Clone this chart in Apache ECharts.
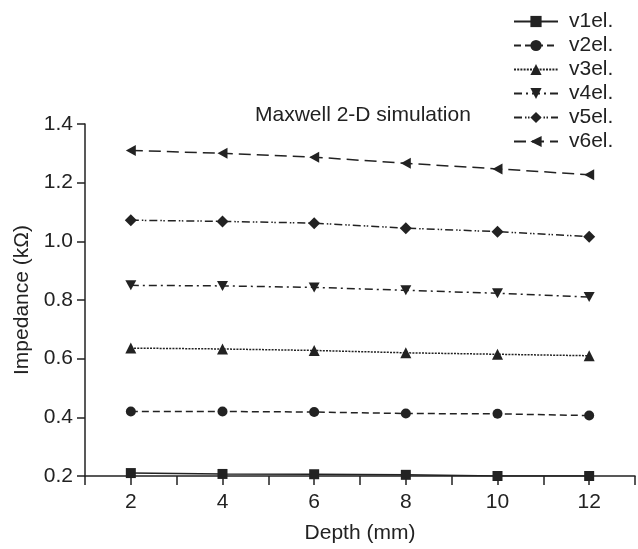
<!DOCTYPE html>
<html><head><meta charset="utf-8">
<script src="https://cdn.jsdelivr.net/npm/echarts@6/dist/echarts.min.js"></script>
<style>html,body{margin:0;padding:0;background:#fff}#c{width:638px;height:549px}</style>
</head><body><div id="c"></div>
<script>
var depths = [2, 4, 6, 8, 10, 12];
var v1el = [0.210, 0.207, 0.206, 0.204, 0.200, 0.200];
var v2el = [0.420, 0.420, 0.418, 0.413, 0.412, 0.406];
var v3el = [0.636, 0.633, 0.628, 0.620, 0.615, 0.610];
var v4el = [0.850, 0.848, 0.843, 0.833, 0.823, 0.810];
var v5el = [1.072, 1.068, 1.062, 1.045, 1.033, 1.016];
var v6el = [1.310, 1.300, 1.287, 1.266, 1.247, 1.227];
var yTicks = [0.2, 0.4, 0.6, 0.8, 1.0, 1.2, 1.4];
var xTickLabels = [2, 4, 6, 8, 10, 12];

var INK = '#222';
var FONT = 'Liberation Sans, Arial, sans-serif';
var FS = 21;
var downTri = 'path://M0,0 L10,0 L5,9 Z';
var leftTri = 'path://M0,5 L9,0 L9,10 Z';

function mk(name, data, symbol, size, dash) {
  return {
    name: name, type: 'line',
    data: depths.map(function (d, i) { return [d, data[i]]; }),
    symbol: symbol, symbolSize: size, showSymbol: true,
    itemStyle: { color: INK },
    lineStyle: { color: INK, width: 1.5, type: dash },
    animation: false, z: 3
  };
}

var series = [
  mk('v1el.', v1el, 'rect', 10, 'solid'),
  mk('v2el.', v2el, 'circle', 10, [7, 4]),
  mk('v3el.', v3el, 'triangle', 11, [2, 1.2]),
  mk('v4el.', v4el, downTri, [11, 10], [8, 4, 2, 4]),
  mk('v5el.', v5el, 'diamond', 12, [8, 3, 1.5, 1.5, 1.5, 3]),
  mk('v6el.', v6el, leftTri, [10, 11], [12, 6])
];

var chart = echarts.init(document.getElementById('c'), null, { renderer: 'canvas' });
chart.setOption({
  backgroundColor: '#fff',
  animation: false,
  title: {
    text: 'Maxwell 2-D simulation', left: 250, top: 100,
    textStyle: { fontFamily: FONT, fontSize: 21, fontWeight: 'normal', color: INK }
  },
  legend: {
    orient: 'vertical', left: 513, top: 11, padding: 0,
    itemWidth: 44, itemHeight: 14, itemGap: 3,
    textStyle: { fontFamily: FONT, fontSize: FS, lineHeight: 21, color: INK, padding: [0, 0, 0, 6] },
    data: series.map(function (s) { return s.name; })
  },
  grid: { left: 85, right: 1, top: 124, bottom: 68, containLabel: false },
  xAxis: {
    type: 'value', min: 1, max: 13, interval: 1,
    name: 'Depth (mm)', nameLocation: 'middle', nameGap: 47,
    nameTextStyle: { fontFamily: FONT, fontSize: FS, color: INK },
    axisLine: { onZero: false, lineStyle: { color: INK, width: 1.5 } },
    axisTick: { show: true, inside: false, length: 9, lineStyle: { color: INK, width: 1.5 } },
    axisLabel: {
      margin: 16, fontFamily: FONT, fontSize: FS, color: INK,
      formatter: function (v) { return xTickLabels.indexOf(v) >= 0 ? String(v) : ''; }
    },
    splitLine: { show: false }
  },
  yAxis: {
    type: 'value', min: 0.2, max: 1.4, interval: 0.2,
    name: 'Impedance (k\u03A9)', nameLocation: 'middle', nameGap: 50, nameRotate: 90,
    nameTextStyle: { fontFamily: FONT, fontSize: FS, color: INK },
    axisLine: { show: true, lineStyle: { color: INK, width: 1.5 } },
    axisTick: { show: true, inside: false, length: 8, lineStyle: { color: INK, width: 1.5 } },
    axisLabel: {
      margin: 12, fontFamily: FONT, fontSize: FS, color: INK,
      formatter: function (v) {
        var best = yTicks.reduce(function (a, b) { return Math.abs(b - v) < Math.abs(a - v) ? b : a; });
        return best.toFixed(1);
      }
    },
    splitLine: { show: false }
  },
  series: series
});
</script>
</body></html>
